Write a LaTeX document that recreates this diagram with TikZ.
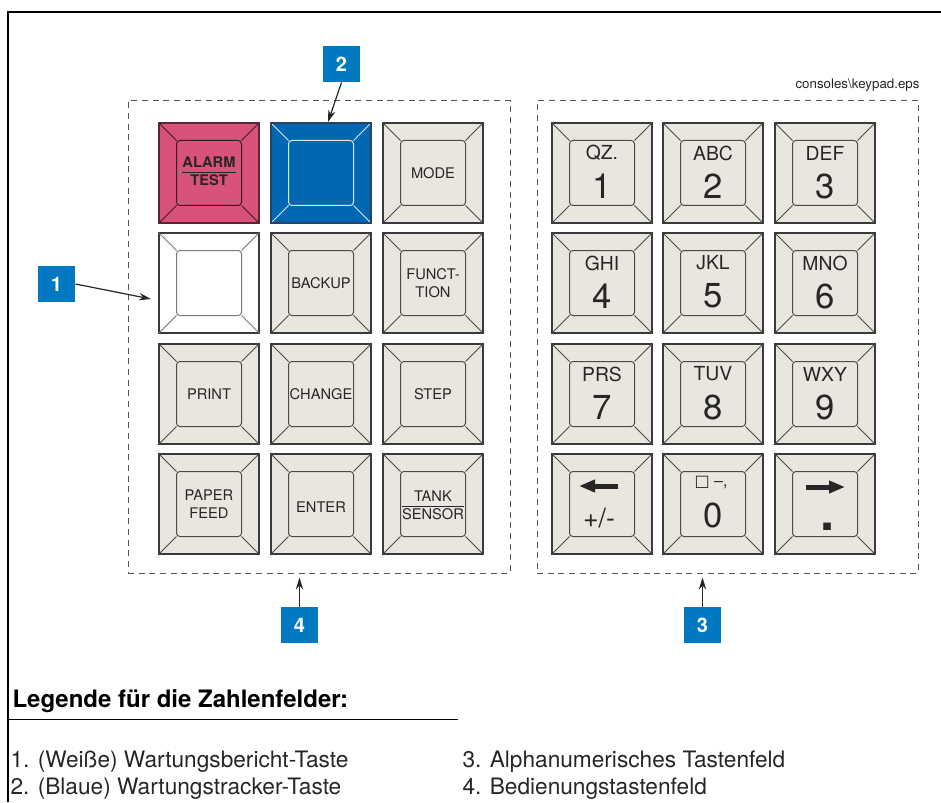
\documentclass[tikz,border=0pt]{standalone}
\usepackage{fontspec}
\setmainfont{TeX Gyre Heros}
\newfontfamily\symbfont{DejaVu Sans}
\usetikzlibrary{arrows.meta,calc}

\definecolor{keygray}{HTML}{E9E6DF}
\definecolor{keyedge}{HTML}{3A3A3A}
\definecolor{keyline}{HTML}{4A4A4A}
\definecolor{alarmred}{HTML}{D9527A}
\definecolor{alarmedge}{HTML}{5A2636}
\definecolor{alarmline}{HTML}{3A1A22}
\definecolor{trackblue}{HTML}{0068B2}
\definecolor{trackedge}{HTML}{2C4260}
\definecolor{trackline}{HTML}{D8E8F6}
\definecolor{whiteline}{HTML}{7A7A7A}
\definecolor{callblue}{HTML}{0079C2}
\definecolor{dashgray}{HTML}{555555}
\definecolor{inktext}{HTML}{262626}

\tikzset{every picture/.style={line width=0.75pt}}
\tikzset{
  keysq/.style={draw=keyedge, line width=1.3pt, minimum size=75pt, inner sep=0pt, outer sep=0pt},
  keyin/.style={line width=0.75pt, rounded corners=2.5pt, minimum size=48.75pt, inner sep=0pt, outer sep=0pt},
  keytxt/.style={font=\fontsize{11}{13.5}\selectfont, align=center, text=inktext, inner sep=0pt},
  lettxt/.style={font=\fontsize{14.5}{15}\selectfont, text=inktext, inner sep=0pt},
  digtxt/.style={font=\fontsize{26}{26}\selectfont, text=inktext, inner sep=0pt},
  keyarrow/.style={draw=inktext, line width=3.75pt, -{Triangle[length=12pt,width=9pt]}},
  callout/.style={fill=callblue, text=white, font=\bfseries\fontsize{15}{15}\selectfont, minimum width=27.75pt, minimum height=27pt, inner sep=0pt},
  callarrow/.style={draw=inktext, line width=0.9pt, -{Stealth[length=9pt,width=5.5pt]}},
  panel/.style={draw=dashgray, line width=0.75pt, dash pattern=on 4.5pt off 3.5pt, minimum height=354pt, inner sep=0pt},
  legtxt/.style={anchor=base west, inner sep=0pt, text=inktext, font=\fontsize{17}{19}\selectfont}
}

% key: name, x, y, fill, line colour
\newcommand{\kbkey}[5]{%
  \node[keysq, fill=#4] (#1) at (#2,#3) {};
  \node[keyin, draw=#5] (#1i) at (#1.center) {};
  \draw[#5, line width=0.6pt] (#1.north west) -- (#1i.north west) (#1.north east) -- (#1i.north east)
    (#1.south west) -- (#1i.south west) (#1.south east) -- (#1i.south east);
}
% number key: name, x, y, letters, digit
\newcommand{\numkey}[5]{%
  \kbkey{#1}{#2}{#3}{keygray}{keyline}
  \node[lettxt] (#1a) at ($(#1.center)+(0,-20)$) {#4};
  \node[digtxt] (#1d) at ($(#1.center)+(0,13)$) {#5};
}

\begin{document}
\begin{tikzpicture}[x=0.75pt,y=0.75pt,yscale=-1,xscale=1]
\path[use as bounding box] (0,0) rectangle (941,802);

%Frame
\draw[line width=1.5pt] (8,802) -- (8,12) -- (941,12);

%Panels
\node[panel, minimum width=286.5pt] (opad) at (319,337) {};
\node[panel, minimum width=285.75pt] (apad) at (727.5,337) {};

% Text Node
\node[anchor=east, inner sep=0pt, text=inktext, font=\fontsize{10}{10}\selectfont] (fname) at (920,85) {consoles\textbackslash keypad.eps};

%Operation keys
\kbkey{k11}{209}{173}{alarmred}{alarmline}
\kbkey{k12}{321}{173}{trackblue}{trackline}
\kbkey{k13}{433}{173}{keygray}{keyline}
\kbkey{k21}{209}{283}{white}{whiteline}
\kbkey{k22}{321}{283}{keygray}{keyline}
\kbkey{k23}{433}{283}{keygray}{keyline}
\kbkey{k31}{209}{394}{keygray}{keyline}
\kbkey{k32}{321}{394}{keygray}{keyline}
\kbkey{k33}{433}{394}{keygray}{keyline}
\kbkey{k41}{209}{504}{keygray}{keyline}
\kbkey{k42}{321}{504}{keygray}{keyline}
\kbkey{k43}{433}{504}{keygray}{keyline}
\draw[alarmedge, line width=1.3pt] (k11.north west) rectangle (k11.south east);
\draw[trackedge, line width=1.3pt] (k12.north west) rectangle (k12.south east);

% Text Node
\node[keytxt, font=\bfseries\fontsize{11}{13.5}\selectfont] (t11) at (k11) {\setlength{\arrayrulewidth}{0.9pt}\begin{tabular}{@{}c@{}}ALARM\\[-1pt]\hline TEST\end{tabular}};
\node[keytxt] (t13) at (k13) {MODE};
\node[keytxt] (t22) at (k22) {BACKUP};
\node[keytxt] (t23) at (k23) {FUNCT-\\TION};
\node[keytxt] (t31) at (k31) {PRINT};
\node[keytxt] (t32) at (k32) {CHANGE};
\node[keytxt] (t33) at (k33) {STEP};
\node[keytxt] (t41) at (k41) {PAPER\\FEED};
\node[keytxt] (t42) at ($(k42)+(0,3)$) {ENTER};
\node[keytxt] (t43) at ($(k43)+(0,3)$) {\setlength{\arrayrulewidth}{0.6pt}\begin{tabular}{@{}c@{}}TANK\\[-1pt]\hline SENSOR\end{tabular}};

%Alphanumeric keys
\numkey{n1}{602}{173}{QZ.}{1}
\numkey{n2}{713}{173}{ABC}{2}
\numkey{n3}{825}{173}{DEF}{3}
\numkey{n4}{602}{283}{GHI}{4}
\numkey{n5}{713}{283}{JKL}{5}
\numkey{n6}{825}{283}{MNO}{6}
\numkey{n7}{602}{394}{PRS}{7}
\numkey{n8}{713}{394}{TUV}{8}
\numkey{n9}{825}{394}{WXY}{9}
\kbkey{nl}{602}{504}{keygray}{keyline}
\kbkey{n0}{713}{504}{keygray}{keyline}
\kbkey{nr}{825}{504}{keygray}{keyline}

\draw[keyarrow] ($(nl.center)+(16,-18)$) -- ($(nl.center)+(-23,-18)$);
\node[keytxt, font=\fontsize{20}{20}\selectfont] (nlt) at ($(nl.center)+(-3,14)$) {+/-};
\node[keytxt, font=\fontsize{12}{12}\selectfont] (n0a) at ($(n0.center)+(-2,-21)$) {{\symbfont □} –,};
\node[digtxt] (n0d) at ($(n0.center)+(0,11)$) {0};
\draw[keyarrow] ($(nr.center)+(-19,-17)$) -- ($(nr.center)+(20,-17)$);
\node[keytxt, font=\bfseries\fontsize{38}{38}\selectfont] (nrt) at ($(nr.center)+(3,23)$) {.};

%Callouts
\node[callout] (c1) at (56.5,284) {1};
\node[callout] (c2) at (341.5,64) {2};
\node[callout] (c3) at (702.5,625) {3};
\node[callout] (c4) at (299.5,625) {4};
\draw[callarrow] (c1.east) -- ($(k21.west)+(-8,16)$);
\draw[callarrow] (c2.south) -- ($(k12.north)+(7,-1)$);
\draw[callarrow] (c3.north) -- ($(c3.north |- apad.south)+(0,4)$);
\draw[callarrow] (c4.north) -- ($(c4.north |- opad.south)+(0,4)$);

%Legend
\node[anchor=base west, inner sep=0pt, text=black, font=\bfseries\fontsize{18}{20}\selectfont] (leghead) at (12,707) {Legende für die Zahlenfelder:};
\draw[line width=0.75pt] (8,719) -- (458,719);
\node[legtxt] (leg1) at (10,767) {1. (Weiße) Wartungsbericht-Taste};
\node[legtxt] (leg2) at (10,794) {2. (Blaue) Wartungstracker-Taste};
\node[legtxt] (leg3) at (462,767) {3. Alphanumerisches Tastenfeld};
\node[legtxt] (leg4) at (462,794) {4. Bedienungstastenfeld};

\end{tikzpicture}
\end{document}
